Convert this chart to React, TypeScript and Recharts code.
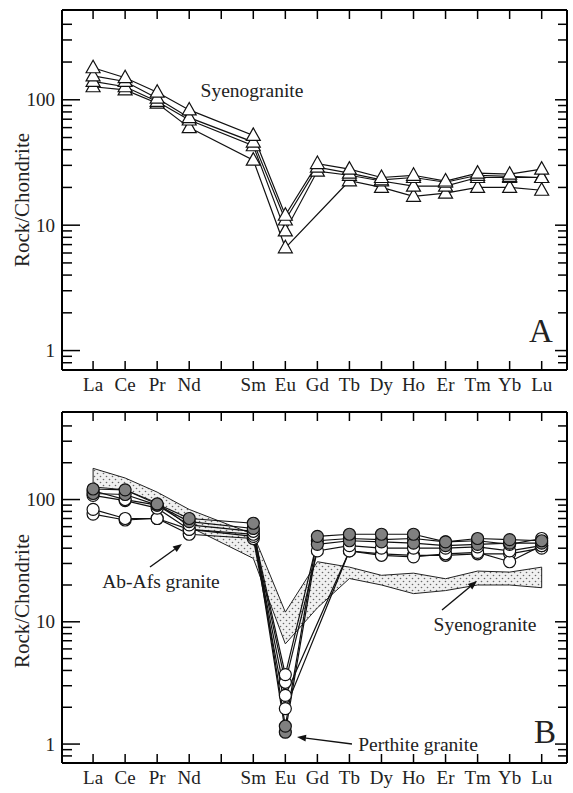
import { ComposedChart, Line, Area, XAxis, YAxis, ReferenceLine } from "recharts";

const FONT = "'Liberation Serif', 'Times New Roman', Times, 'DejaVu Serif', serif";

// rare earth elements, Pm left out (gap on the axis)
const REE = ["La", "Ce", "Pr", "Nd", "Sm", "Eu", "Gd", "Tb", "Dy", "Ho", "Er", "Tm", "Yb", "Lu"];
const REE_POS = [57, 58, 59, 60, 62, 63, 64, 65, 66, 67, 68, 69, 70, 71];
const TICK_POS = [57, 58, 59, 60, 61, 62, 63, 64, 65, 66, 67, 68, 69, 70, 71];
const TICK_LABELS = ["La", "Ce", "Pr", "Nd", "", "Sm", "Eu", "Gd", "Tb", "Dy", "Ho", "Er", "Tm", "Yb", "Lu"];

const Y_TICKS = [0.8, 0.9, 1, 2, 3, 4, 5, 6, 7, 8, 9, 10, 20, 30, 40, 50, 60, 70, 80, 90, 100, 200, 300, 400];
const Y_MAJOR = [1, 10, 100];

// panel A: syenogranite
const syeno1 = [180, 150, 115, 83, 52, 12, 31, 28, 24, 25, 22.5, 26, 25.5, 28];
const syeno2 = [155, 140, 103, 72, 46, 11, 29, 26, 23, 24, 22, 25, 24.5, 24];
const syeno3 = [140, 127, 97, 69, 43, 9, 27, 25, 22.5, 20.5, 20.5, 24, 24, 24];
const syeno4 = [127, 120, 94, 60, 33, 6.6, null, 22.6, 20, 17, 18, 20, 20, 19];

// panel B: syenogranite field
const syenoMax = [180, 150, 115, 83, 52, 12, 31, 28, 24, 25, 22.5, 26, 25.5, 28];
const syenoMin = [127, 120, 94, 60, 33, 6.6, 13, 22.6, 20, 17, 18, 20, 20, 19];

// panel B: Ab-Afs granite (open circles)
const abafs1 = [118, 100, 90, 62, 55, 3.7, 46, 48, 47, 48, 45, 46, 43, 48];
const abafs2 = [108, 98, 85, 57, 52, 3.2, 38, 42, 40, 40, 40, 41, 38, 42];
const abafs3 = [83, 70, 70, 57, 50, 2.5, null, 38, 35, 34, 36, 37, 31, 42];
const abafs4 = [76, 68, 70, 52, 48, 1.95, null, 38, 36, 35, 35, 36, 36, 40];

// panel B: perthite granite (grey circles)
const perth1 = [122, 120, 92, 70, 64, 1.4, 50, 52, 52, 52, 45, 48, 47, 46];
const perth2 = [112, 110, 90, 66, 58, 1.25, 43, 46, 45, 44, 42, 43, 44, 44];

const dataA = REE.map((el, i) => ({
  el,
  x: REE_POS[i],
  s1: syeno1[i],
  s2: syeno2[i],
  s3: syeno3[i],
  s4: syeno4[i],
}));

const dataB = REE.map((el, i) => ({
  el,
  x: REE_POS[i],
  band: [syenoMin[i], syenoMax[i]],
  a1: abafs1[i],
  a2: abafs2[i],
  a3: abafs3[i],
  a4: abafs4[i],
  p1: perth1[i],
  p2: perth2[i],
}));

const txt = { fontFamily: FONT };

const XTickBottom = (props: any) => {
  const { x, y, payload } = props;
  const label = TICK_LABELS[TICK_POS.indexOf(payload.value)];
  return (
    <g>
      <line x1={x} x2={x} y1={y} y2={y - 9} stroke="#000" strokeWidth={1.5} />
      <text x={x} y={y + 21} textAnchor="middle" style={txt} fontSize={19} fill="#222">
        {label}
      </text>
    </g>
  );
};

const XTickTop = (props: any) => {
  const { x, y } = props;
  return <line x1={x} x2={x} y1={y} y2={y + 9} stroke="#000" strokeWidth={1.5} />;
};

const YTickLeft = (props: any) => {
  const { x, y, payload } = props;
  const major = Y_MAJOR.includes(payload.value);
  return (
    <g>
      <line x1={x} x2={x + (major ? 18 : 10)} y1={y} y2={y} stroke="#000" strokeWidth={1.5} />
      {major && (
        <text x={x - 7} y={y} dy="0.35em" textAnchor="end" style={txt} fontSize={19} fill="#222">
          {payload.value}
        </text>
      )}
    </g>
  );
};

const YTickRight = (props: any) => {
  const { x, y, payload } = props;
  const major = Y_MAJOR.includes(payload.value);
  return <line x1={x} x2={x - (major ? 12 : 9)} y1={y} y2={y} stroke="#000" strokeWidth={1.5} />;
};

const triangleDot = (name: string) => (props: any) => {
  const { cx, cy, index } = props;
  if (cx == null || cy == null) return <g key={`${name}-${index}`} />;
  return (
    <path
      key={`${name}-${index}`}
      d={`M${cx},${cy - 7.5} L${cx - 7},${cy + 5} L${cx + 7},${cy + 5} Z`}
      fill="#fff"
      stroke="#111"
      strokeWidth={1.2}
    />
  );
};

const circleDot = (name: string, fill: string) => (props: any) => {
  const { cx, cy, index } = props;
  if (cx == null || cy == null) return <g key={`${name}-${index}`} />;
  return <circle key={`${name}-${index}`} cx={cx} cy={cy} r={6} fill={fill} stroke="#111" strokeWidth={1.2} />;
};

const axes = () => [
  <XAxis
    key="xb"
    xAxisId="b"
    type="number"
    dataKey="x"
    domain={[56.03, 71.79]}
    allowDataOverflow
    ticks={TICK_POS}
    interval={0}
    tick={<XTickBottom />}
    tickLine={false}
    tickSize={0}
    tickMargin={0}
    axisLine={{ stroke: "#000", strokeWidth: 2 }}
  />,
  <XAxis
    key="xt"
    xAxisId="t"
    orientation="top"
    type="number"
    dataKey="x"
    domain={[56.03, 71.79]}
    allowDataOverflow
    ticks={TICK_POS}
    interval={0}
    tick={<XTickTop />}
    tickLine={false}
    tickSize={0}
    tickMargin={0}
    height={1}
    axisLine={{ stroke: "#000", strokeWidth: 2 }}
  />,
  <YAxis
    key="yl"
    yAxisId="l"
    scale="log"
    type="number"
    domain={[0.7, 520]}
    allowDataOverflow
    ticks={Y_TICKS}
    interval={0}
    tick={<YTickLeft />}
    tickLine={false}
    tickSize={0}
    tickMargin={0}
    width={62}
    axisLine={{ stroke: "#000", strokeWidth: 2 }}
  />,
  <YAxis
    key="yr"
    yAxisId="r"
    orientation="right"
    scale="log"
    type="number"
    domain={[0.7, 520]}
    allowDataOverflow
    ticks={Y_TICKS}
    interval={0}
    tick={<YTickRight />}
    tickLine={false}
    tickSize={0}
    tickMargin={0}
    width={1}
    axisLine={{ stroke: "#000", strokeWidth: 2 }}
  />,
];

const lineProps = {
  xAxisId: "b",
  yAxisId: "l",
  type: "linear" as const,
  stroke: "#111",
  strokeWidth: 1.2,
  connectNulls: true,
  isAnimationActive: false,
  activeDot: false,
};

const arrow = (x1: number, y1: number, x2: number, y2: number) => {
  const a = Math.atan2(y2 - y1, x2 - x1);
  const len = 9;
  const w = 3.5;
  const bx = x2 - len * Math.cos(a);
  const by = y2 - len * Math.sin(a);
  const px = -Math.sin(a) * w;
  const py = Math.cos(a) * w;
  return (
    <g>
      <line x1={x1} y1={y1} x2={bx} y2={by} stroke="#111" strokeWidth={1.4} />
      <path d={`M${x2},${y2} L${bx + px},${by + py} L${bx - px},${by - py} Z`} fill="#111" />
    </g>
  );
};

export default function App() {
  return (
    <div style={{ position: "absolute", left: 0, top: 0, width: 573, height: 793, background: "#fff" }}>
      <div style={{ position: "absolute", left: 0, top: 0 }}>
        <ComposedChart width={573} height={400} data={dataA} margin={{ top: 9, right: 5, bottom: 0, left: 0 }}>
          {axes()}
          <Line {...lineProps} dataKey="s4" dot={triangleDot("s4")} />
          <Line {...lineProps} dataKey="s3" dot={triangleDot("s3")} />
          <Line {...lineProps} dataKey="s2" dot={triangleDot("s2")} />
          <Line {...lineProps} dataKey="s1" dot={triangleDot("s1")} />
        </ComposedChart>
      </div>
      <div style={{ position: "absolute", left: 0, top: 400 }}>
        <ComposedChart width={573} height={393} data={dataB} margin={{ top: 11, right: 5, bottom: 0, left: 0 }}>
          <defs>
            <pattern id="dots" width="6" height="6" patternUnits="userSpaceOnUse">
              <rect width="6" height="6" fill="#f0f0f0" />
              <circle cx="1.5" cy="1.5" r="0.8" fill="#666" />
              <circle cx="4.5" cy="4.5" r="0.8" fill="#666" />
            </pattern>
          </defs>
          {axes()}
          <Area
            xAxisId="b"
            yAxisId="l"
            type="linear"
            dataKey="band"
            fill="url(#dots)"
            fillOpacity={1}
            stroke="#222"
            strokeWidth={1}
            dot={false}
            activeDot={false}
            isAnimationActive={false}
          />
          <ReferenceLine
            xAxisId="b"
            yAxisId="l"
            segment={[
              { x: REE_POS[0], y: syenoMin[0] },
              { x: REE_POS[0], y: syenoMax[0] },
            ]}
            stroke="#222"
            strokeWidth={1}
          />
          <ReferenceLine
            xAxisId="b"
            yAxisId="l"
            segment={[
              { x: REE_POS[13], y: syenoMin[13] },
              { x: REE_POS[13], y: syenoMax[13] },
            ]}
            stroke="#222"
            strokeWidth={1}
          />
          <Line {...lineProps} dataKey="a4" dot={circleDot("a4", "#fff")} />
          <Line {...lineProps} dataKey="a3" dot={circleDot("a3", "#fff")} />
          <Line {...lineProps} dataKey="a2" dot={circleDot("a2", "#fff")} />
          <Line {...lineProps} dataKey="a1" dot={circleDot("a1", "#fff")} />
          <Line {...lineProps} dataKey="p2" dot={circleDot("p2", "#808080")} />
          <Line {...lineProps} dataKey="p1" dot={circleDot("p1", "#808080")} />
        </ComposedChart>
      </div>
      <svg
        width={573}
        height={793}
        style={{ position: "absolute", left: 0, top: 0, pointerEvents: "none", fontFamily: FONT }}
        fill="#222"
      >
        <text transform="translate(22,200) rotate(-90)" textAnchor="middle" dominantBaseline="central" fontSize={21} style={txt}>
          Rock/Chondrite
        </text>
        <text transform="translate(22,601) rotate(-90)" textAnchor="middle" dominantBaseline="central" fontSize={21} style={txt}>
          Rock/Chondrite
        </text>
        <text x={252} y={97} textAnchor="middle" fontSize={19.5} style={txt}>
          Syenogranite
        </text>
        <text x={541} y={342} textAnchor="middle" fontSize={33} style={txt}>
          A
        </text>
        <text x={545} y={743} textAnchor="middle" fontSize={33} style={txt}>
          B
        </text>
        <text x={161} y={588} textAnchor="middle" fontSize={19.5} style={txt}>
          Ab-Afs granite
        </text>
        {arrow(150, 567, 182, 544)}
        <text x={485} y={631} textAnchor="middle" fontSize={19.5} style={txt}>
          Syenogranite
        </text>
        {arrow(442, 610, 477, 581)}
        <text x={418} y={751} textAnchor="middle" fontSize={19.5} style={txt}>
          Perthite granite
        </text>
        {arrow(352, 744, 297, 737)}
      </svg>
    </div>
  );
}
